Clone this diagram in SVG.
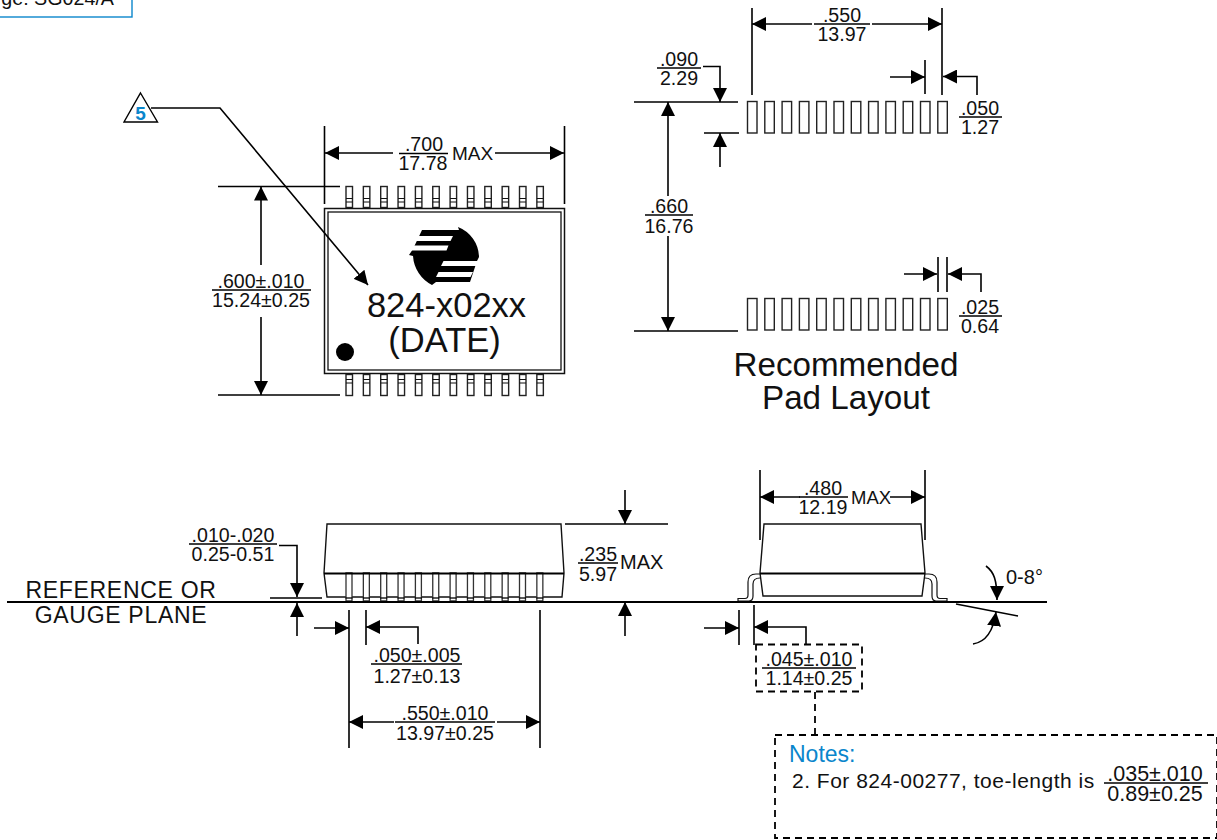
<svg xmlns="http://www.w3.org/2000/svg" width="1217" height="840" viewBox="0 0 1217 840">
<style>
text{font-family:"Liberation Sans",Arial,sans-serif;fill:#111}
.n{font-size:19.600px;text-anchor:middle}
.l{fill:none;stroke:#000;stroke-width:1.6}
.b{fill:none;stroke:#000;stroke-width:1.8}
.t{fill:none;stroke:#111;stroke-width:1.2}
.g{fill:#fff;stroke:#222;stroke-width:1.4}
.d{fill:none;stroke:#000;stroke-width:1.8;stroke-dasharray:7 5}
.a{fill:none;stroke:#000;stroke-width:1.6;marker-end:url(#arrow)}
</style>
<defs>
<marker id="arrow" markerUnits="userSpaceOnUse" markerWidth="14" markerHeight="14" refX="14" refY="7" orient="auto"><path d="M0,0L14,7L0,14Z" fill="#000"/></marker>
<g id="pinT"><rect class="g" x="0" y="0" width="6.500" height="21"/><path class="t" d="M0,12H6.500M0,15.500H6.500"/></g>
<g id="pinB"><rect class="g" x="0" y="0" width="6.500" height="21"/><path class="t" d="M0,5H6.500M0,8.500H6.500"/></g>
<rect id="pad" class="g" width="9.500" height="31.500"/>
<g id="pinS"><path d="M0,0H6V28H0Z" fill="#fff" stroke="#333" stroke-width="1.300"/><path d="M-0.500,25H6.500" stroke="#000" stroke-width="1.300"/></g>
</defs>

<g id="page-tag">
<rect x="-3" y="-8" width="135" height="25" fill="#fff" stroke="#0a86cc" stroke-width="1.400"/>
<text x="114" y="5" text-anchor="end" font-size="19.700">ge: SG024/A</text>
</g>

<g id="callout-5">
<path d="M140.500,93L157.500,122H124Z" fill="#fff" stroke="#000" stroke-width="1.400"/>
<text x="140.500" y="120" text-anchor="middle" font-size="19" font-weight="700" style="fill:#0a86cc">5</text>
</g>

<g id="top-view">
<g id="top-pins">
<use href="#pinT" x="346" y="186.500"/><use href="#pinT" x="363.350" y="186.500"/><use href="#pinT" x="380.700" y="186.500"/><use href="#pinT" x="398.050" y="186.500"/><use href="#pinT" x="415.400" y="186.500"/><use href="#pinT" x="432.750" y="186.500"/><use href="#pinT" x="450.100" y="186.500"/><use href="#pinT" x="467.450" y="186.500"/><use href="#pinT" x="484.800" y="186.500"/><use href="#pinT" x="502.150" y="186.500"/><use href="#pinT" x="519.500" y="186.500"/><use href="#pinT" x="536.850" y="186.500"/>
<use href="#pinB" x="346" y="374.500"/><use href="#pinB" x="363.350" y="374.500"/><use href="#pinB" x="380.700" y="374.500"/><use href="#pinB" x="398.050" y="374.500"/><use href="#pinB" x="415.400" y="374.500"/><use href="#pinB" x="432.750" y="374.500"/><use href="#pinB" x="450.100" y="374.500"/><use href="#pinB" x="467.450" y="374.500"/><use href="#pinB" x="484.800" y="374.500"/><use href="#pinB" x="502.150" y="374.500"/><use href="#pinB" x="519.500" y="374.500"/><use href="#pinB" x="536.850" y="374.500"/>
</g>
<rect x="324.500" y="208.500" width="240" height="165" fill="#fff" stroke="#111" stroke-width="1.500"/>
<rect x="328" y="212" width="233" height="158" fill="none" stroke="#111" stroke-width="1.300"/>
<g id="logo">
<path d="M458,227A33,33 0 0 1 479,257L477,261L470,282H436L432,285A35,35 0 0 1 413,256L409,255L413,249L422,230H459Z" fill="#000"/>
<path d="M453,236L450.500,241H415.500L418,236Z M448.500,245.500L446.500,250.500H411L413.500,245.500Z M443.500,261L441,266H477L479,261Z M438.500,272L436,277H470.500L473,272Z" fill="#fff"/>
</g>
<circle cx="345" cy="352" r="9" fill="#000"/>
<text x="446.500" y="317" text-anchor="middle" font-size="34.500">824-x02xx</text>
<text x="444.500" y="352" text-anchor="middle" font-size="34.500">(DATE)</text>
</g>

<g id="pad-layout">
<use href="#pad" x="747.500" y="101.500"/><use href="#pad" x="764.800" y="101.500"/><use href="#pad" x="782.100" y="101.500"/><use href="#pad" x="799.400" y="101.500"/><use href="#pad" x="816.700" y="101.500"/><use href="#pad" x="834" y="101.500"/><use href="#pad" x="851.300" y="101.500"/><use href="#pad" x="868.600" y="101.500"/><use href="#pad" x="885.900" y="101.500"/><use href="#pad" x="903.200" y="101.500"/><use href="#pad" x="920.500" y="101.500"/><use href="#pad" x="937.800" y="101.500"/>
<use href="#pad" x="747.500" y="298.500"/><use href="#pad" x="764.800" y="298.500"/><use href="#pad" x="782.100" y="298.500"/><use href="#pad" x="799.400" y="298.500"/><use href="#pad" x="816.700" y="298.500"/><use href="#pad" x="834" y="298.500"/><use href="#pad" x="851.300" y="298.500"/><use href="#pad" x="868.600" y="298.500"/><use href="#pad" x="885.900" y="298.500"/><use href="#pad" x="903.200" y="298.500"/><use href="#pad" x="920.500" y="298.500"/><use href="#pad" x="937.800" y="298.500"/>
<text x="846" y="376" text-anchor="middle" font-size="33.200">Recommended</text>
<text x="846" y="409" text-anchor="middle" font-size="33.200">Pad Layout</text>
</g>

<g id="front-view">
<path d="M327,524H561L564,573L562,597H327L324,573Z" fill="#fff" stroke="#111" stroke-width="1.400"/>
<use href="#pinS" x="346" y="573"/><use href="#pinS" x="363.350" y="573"/><use href="#pinS" x="380.700" y="573"/><use href="#pinS" x="398.050" y="573"/><use href="#pinS" x="415.400" y="573"/><use href="#pinS" x="432.750" y="573"/><use href="#pinS" x="450.100" y="573"/><use href="#pinS" x="467.450" y="573"/><use href="#pinS" x="484.800" y="573"/><use href="#pinS" x="502.150" y="573"/><use href="#pinS" x="519.500" y="573"/><use href="#pinS" x="536.850" y="573"/>
<path class="b" d="M324,573.500H564"/>
</g>

<g id="side-view">
<path class="t" d="M738,601V598.500H745Q748,598.500 748,595V582Q748,574 756,574H760M738,601H749Q753,601 753,596V584Q753,578 760,578"/>
<path class="t" d="M947,601V598.500H940Q937,598.500 937,595V582Q937,574 929,574H925M947,601H936Q932,601 932,596V584Q932,578 925,578"/>
<path d="M764,524H921L925,573L922,596H763L760,573Z" fill="#fff" stroke="#111" stroke-width="1.400"/>
<path class="b" d="M760,573.500H925"/>
</g>

<g id="connectors">
<path class="l" d="M151,108H220L368,285" style="marker-end:url(#arrow)"/>
<path class="l" d="M324.500,126V204M564.500,126V204M218,186.500H340M218,395H340"/>
<path class="a" d="M393,153H325"/><path class="a" d="M495,153H564"/>
<path class="a" d="M261,265V186.500"/><path class="a" d="M261,317V395"/>
<path class="l" d="M752,8V95M942,8V95M634,102H738M704,133H739M634,331H738M925,60V94M938,257V292M947,257V292"/>
<path class="a" d="M812,24H752"/><path class="a" d="M872,24H942"/>
<path class="a" d="M703,66.500H720V102"/><path class="a" d="M720,167V133"/>
<path class="a" d="M668,196V102"/><path class="a" d="M668,236V331"/>
<path class="a" d="M890,77H925"/><path class="a" d="M977,95V76.500H943"/>
<path class="a" d="M904,274H937"/><path class="a" d="M981,292V274H948"/>
<path class="b" d="M7,602H1047"/>
<path class="l" d="M270,598H322M565,524H668M349,610V748M366,610V645M540,610V748M739,610V645M754,605V645M760,470V540M925,470V540"/>
<path class="a" d="M279,545.500H297V597"/><path class="a" d="M297,636V603"/>
<path class="a" d="M314,628H349"/><path class="a" d="M418,644V627H366"/>
<path class="a" d="M394,722H349"/><path class="a" d="M497,722H540"/>
<path class="a" d="M625,490V524"/><path class="a" d="M625,636V602"/>
<path class="a" d="M800,497H760"/><path class="a" d="M890,497H925"/>
<path class="a" d="M704,628H739"/><path class="a" d="M806,644V627H754"/>
<path class="l" d="M956,604L1018,616"/>
<path class="a" d="M986,566C994,572 997,580 997,600"/>
<path class="a" d="M973,644Q992,641 996,612"/>
<path class="d" d="M815,692V735"/>
</g>

<g id="labels">
<g id="dim-700"><path class="l" d="M399,153.500H448"/><text class="n" x="424" y="151">.700</text><text class="n" x="423" y="170">17.78</text><text x="452" y="160" font-size="19">MAX</text></g>
<g id="dim-600"><path class="l" d="M212,290H311"/><text class="n" x="261" y="288">.600±.010</text><text class="n" x="261" y="307">15.24±0.25</text></g>
<g id="dim-550"><path class="l" d="M814,24H870"/><text class="n" x="842" y="22">.550</text><text class="n" x="842" y="41">13.97</text></g>
<g id="dim-090"><path class="l" d="M657,68H701"/><text class="n" x="679" y="66">.090</text><text class="n" x="679" y="85">2.29</text></g>
<g id="dim-050"><path class="l" d="M959,117H1002"/><text class="n" x="980" y="115">.050</text><text class="n" x="980" y="134">1.27</text></g>
<g id="dim-660"><path class="l" d="M645,215H693"/><text class="n" x="669" y="213">.660</text><text class="n" x="669" y="233">16.76</text></g>
<g id="dim-025"><path class="l" d="M959,316H1002"/><text class="n" x="980" y="314">.025</text><text class="n" x="980" y="333">0.64</text></g>
<g id="dim-010"><path class="l" d="M189,544H277"/><text class="n" x="233" y="542">.010-.020</text><text class="n" x="233" y="561">0.25-0.51</text></g>
<text x="121" y="598" text-anchor="middle" font-size="23" letter-spacing="0.7">REFERENCE OR</text>
<text x="121" y="623" text-anchor="middle" font-size="23" letter-spacing="0.7">GAUGE PLANE</text>
<g id="dim-050-005"><path class="l" d="M371,664H462"/><text class="n" x="417" y="662">.050±.005</text><text class="n" x="417" y="683">1.27±0.13</text></g>
<g id="dim-550-010"><path class="l" d="M395,722H495"/><text class="n" x="445" y="720">.550±.010</text><text class="n" x="445" y="740">13.97±0.25</text></g>
<g id="dim-235"><path class="l" d="M578,563H618"/><text class="n" x="598" y="561">.235</text><text class="n" x="598" y="581">5.97</text><text x="620" y="569" font-size="20">MAX</text></g>
<g id="dim-480"><path class="l" d="M799,497H848"/><text class="n" x="823" y="495">.480</text><text class="n" x="823" y="514">12.19</text><text x="851" y="504" font-size="18.500">MAX</text></g>
<text x="1006" y="584" font-size="20">0-8°</text>
<g id="dim-045"><rect class="d" x="756" y="644.500" width="106" height="47"/><path class="l" d="M762,668H856"/><text class="n" x="809" y="666">.045±.010</text><text class="n" x="809" y="685">1.14±0.25</text></g>
<g id="notes">
<rect class="d" x="775" y="735" width="442" height="103"/>
<text x="789" y="762" font-size="23" style="fill:#0a86cc">Notes:</text>
<text x="792" y="788" font-size="21" letter-spacing="0.5">2. For 824-00277, toe-length is</text>
<path class="l" d="M1104,783H1208"/><text class="n" style="font-size:21.500px" x="1155" y="781">.035±.010</text><text class="n" style="font-size:21.500px" x="1155" y="801">0.89±0.25</text>
</g>
</g>
</svg>
